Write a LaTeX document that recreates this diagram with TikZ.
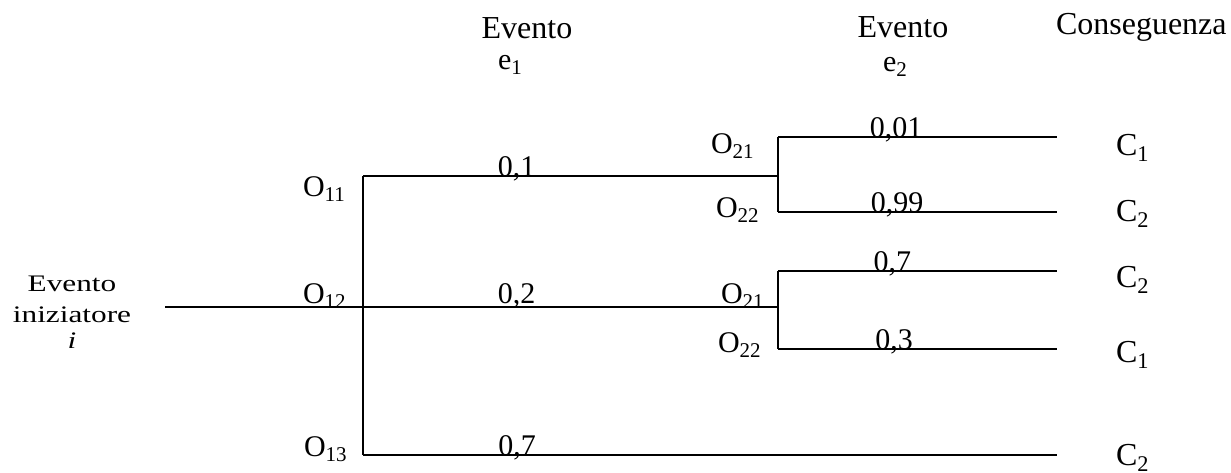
\documentclass[tikz,border=0pt]{standalone}
\usepackage{fontspec}
\setmainfont{Liberation Serif}
\newfontfamily\widefont[FakeStretch=1.32]{Liberation Serif}
\begin{document}
\begin{tikzpicture}[x=1pt, y=-1pt, line width=2pt,
  every node/.style={inner sep=0pt, font=\fontsize{30}{30}\selectfont},
  prob/.style={anchor=base},
  lab/.style={anchor=base west},
  head/.style={anchor=base, font=\fontsize{32}{32}\selectfont},
  cons/.style={anchor=base west, font=\fontsize{32}{32}\selectfont}]
\useasboundingbox (0,0) rectangle (1231,472);
\coordinate (I) at (165,307); \coordinate (A) at (363,307);
\coordinate (A1) at (363,176); \coordinate (A3) at (363,455);
\coordinate (B) at (778,176); \coordinate (B1) at (778,137); \coordinate (B2) at (778,212);
\coordinate (D) at (778,307); \coordinate (D1) at (778,271); \coordinate (D2) at (778,349);
\coordinate (E1) at (1057,137); \coordinate (E2) at (1057,212);
\coordinate (E3) at (1057,271); \coordinate (E4) at (1057,349);
\coordinate (E5) at (1057,455);
\node[head] (h1) at (527,38) {Evento};
\node[lab] (h1e) at (497,69) {e\textsubscript{1}};
\node[head] (h2) at (903,37) {Evento};
\node[lab] (h2e) at (882,71) {e\textsubscript{2}};
\node[cons] (hc) at (1055,34) {Conseguenza};
\node[align=center, anchor=base, font=\widefont\fontsize{23.7}{31}\selectfont] (init) at (72,348)
  {Evento\\iniziatore\\[-5pt]\textit{i}};
\draw (I) -- (D);
\draw (A1) -- (A3);
\draw (A1) -- node[prob, pos=.37] (p11) {0,1} (B);
\path (A) -- node[prob, pos=.37, yshift=4pt] (p12) {0,2} (D);
\draw (A3) -- node[prob, pos=.222] (p13) {0,7} (E5);
\draw (B1) -- (B2);
\draw (B1) -- node[prob, pos=.423] (p21) {0,01} (E1);
\draw (B2) -- node[prob, pos=.427] (p22) {0,99} (E2);
\draw (D1) -- (D2);
\draw (D1) -- node[prob, pos=.41] (q21) {0,7} (E3);
\draw (D2) -- node[prob, pos=.416] (q22) {0,3} (E4);
\node[lab] (o11) at (302,196) {O\textsubscript{11}};
\node[lab] (o12) at (302,303) {O\textsubscript{12}};
\node[lab] (o13) at (303,456) {O\textsubscript{13}};
\node[lab] (o21) at (710,153) {O\textsubscript{21}};
\node[lab] (o22) at (715,217) {O\textsubscript{22}};
\node[lab] (u21) at (720,303) {O\textsubscript{21}};
\node[lab] (u22) at (717,352) {O\textsubscript{22}};
\node[cons] (c1) at (1115,155) {C\textsubscript{1}};
\node[cons] (c2) at (1115,221) {C\textsubscript{2}};
\node[cons] (c3) at (1115,287) {C\textsubscript{2}};
\node[cons] (c4) at (1115,362) {C\textsubscript{1}};
\node[cons] (c5) at (1115,465) {C\textsubscript{2}};
\end{tikzpicture}
\end{document}
